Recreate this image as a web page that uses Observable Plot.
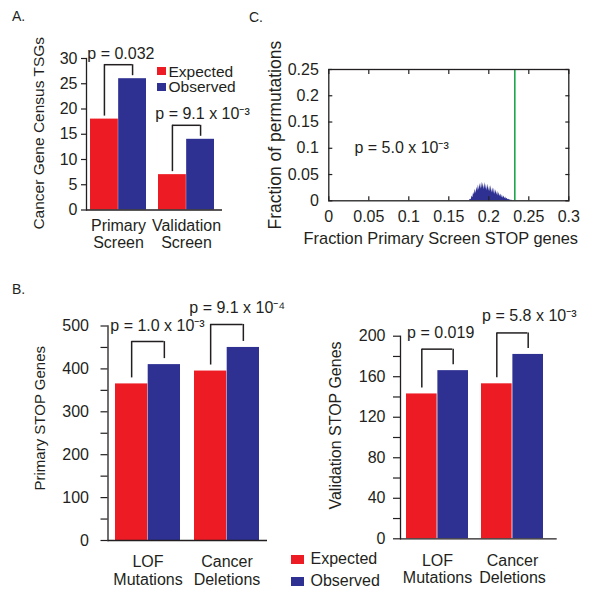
<!DOCTYPE html>
<html>
<head>
<meta charset="utf-8">
<script src="https://cdn.jsdelivr.net/npm/d3@7"></script>
<script src="https://cdn.jsdelivr.net/npm/@observablehq/plot@0.6"></script>
<style>
  body { margin: 0; background: #fff; }
  #fig { position: relative; width: 600px; height: 598px; font-family: "Liberation Sans", Arial, Helvetica, sans-serif; color: #231f20; overflow: hidden; }
  #fig > * { position: absolute; }
  .panel-label { font-size: 14px; line-height: 14px; }
  .leg, .leg * { font-family: "Liberation Sans", Arial, Helvetica, sans-serif !important; font-size: 16px !important; color: #231f20; overflow: visible !important; }
  #legA, #legA * { font-size: 15.5px !important; }
  .leg > div { margin: 0 !important; }
  #legA [class$="-swatch"] { line-height: 15.5px !important; height: 15.5px; padding-bottom: 0 !important; }
  #legA svg { margin-right: 2.5px !important; }
  #legB [class$="-swatch"] { line-height: 22px !important; height: 22px; padding-bottom: 0 !important; }
  #legB svg { margin-right: 7px !important; }
</style>
</head>
<body>
<div id="fig"></div>
<script>
// ---------- data ----------
const series = ["Expected", "Observed"];
const colors = ["#ed1c24", "#2e3192"];

// Panel A
const aGroups = ["Primary\nScreen", "Validation\nScreen"];
const aExpected = [18, 7];
const aObserved = [26, 14];
const aPvalues = ["p = 0.032", "p = 9.1 x 10⁻³"];
const aTicks = [0, 5, 10, 15, 20, 25, 30];

// Panel B
const bGroups = ["LOF\nMutations", "Cancer\nDeletions"];
const bPrimaryExpected = [365, 395];
const bPrimaryObserved = [410, 450];
const bPrimaryP = ["p = 1.0 x 10⁻³", "p = 9.1 x 10⁻⁴"];
const bPrimaryTicks = [0, 50, 100, 150, 200, 250, 300, 350, 400, 450, 500];
const bValidationExpected = [143, 153];
const bValidationObserved = [166, 182];
const bValidationP = ["p = 0.019", "p = 5.8 x 10⁻³"];
const bValidationTicks = [0, 20, 40, 60, 80, 100, 120, 140, 160, 180, 200];

// Panel C (permutation histogram)
const cBins = [0.176, 0.177, 0.178, 0.179, 0.180, 0.181, 0.182, 0.183, 0.184, 0.185,
  0.186, 0.187, 0.188, 0.189, 0.190, 0.191, 0.192, 0.193, 0.194, 0.195,
  0.196, 0.197, 0.198, 0.199, 0.200, 0.201, 0.202, 0.203, 0.204, 0.205,
  0.206, 0.207, 0.208, 0.209, 0.210, 0.211, 0.212, 0.213, 0.214, 0.215,
  0.216, 0.217, 0.218, 0.219, 0.220, 0.221, 0.222, 0.223, 0.224, 0.225,
  0.226, 0.227, 0.228, 0.229, 0.230];
const cFraction = [0.001, 0.003, 0.002, 0.009, 0.006, 0.016, 0.011, 0.022, 0.014, 0.026,
  0.018, 0.030, 0.020, 0.033, 0.022, 0.036, 0.024, 0.034, 0.021, 0.035,
  0.022, 0.031, 0.019, 0.032, 0.018, 0.028, 0.017, 0.029, 0.015, 0.025,
  0.014, 0.024, 0.012, 0.021, 0.011, 0.018, 0.009, 0.016, 0.008, 0.013,
  0.006, 0.011, 0.005, 0.009, 0.004, 0.007, 0.003, 0.005, 0.002, 0.003,
  0.001, 0.002, 0.0005, 0.001, 0];
const cObservedFraction = 0.2325;
const cP = "p = 5.0 x 10⁻³";
const cXTicks = [0, 0.05, 0.1, 0.15, 0.2, 0.25, 0.3];
const cYTicks = [0, 0.05, 0.1, 0.15, 0.2, 0.25];

// ---------- drawing ----------
const FONT = '"Liberation Sans", Arial, Helvetica, sans-serif';
const INK = "#231f20";
const GREEN = "#1ea64b";
const fig = document.getElementById("fig");

function place(el, left, top) {
  el.style.left = left + "px";
  el.style.top = top + "px";
  fig.appendChild(el);
  return el;
}

function groupedBars({groups, expected, observed, pvals, ticks, labelEvery, yMax, yLabel, L}) {
  const innerW = L.width - L.ml - L.mr;
  const innerH = L.height - L.mt - L.mb;
  const upp = yMax / innerH;
  const step = innerW / (groups.length - L.pi + 2 * L.po);
  const bw = step * (1 - L.pi);
  const rows = groups.map((g, i) => ({
    group: g, expected: expected[i], observed: observed[i], p: pvals[i],
    top: observed[i] + L.rise * upp,
    leftEnd: expected[i] + L.gap * upp,
    rightEnd: observed[i] + L.gap * upp
  }));
  return Plot.plot({
    width: L.width, height: L.height,
    marginTop: L.mt, marginRight: L.mr, marginBottom: L.mb, marginLeft: L.ml,
    style: {fontFamily: FONT, fontSize: L.fontSize + "px", color: INK, background: "none", overflow: "visible"},
    x: {domain: groups, paddingInner: L.pi, paddingOuter: L.po, align: L.align},
    y: {domain: [0, yMax]},
    marks: [
      Plot.barY(rows, {x: "group", y: "expected", fill: colors[0], insetRight: bw / 2}),
      Plot.barY(rows, {x: "group", y: "observed", fill: colors[1], insetLeft: bw / 2}),
      Plot.ruleY([0], {stroke: INK, strokeWidth: 1.3}),
      Plot.frame({anchor: "left", stroke: INK, strokeWidth: 1.3}),
      Plot.axisY({ticks, tickSize: L.tickSize, tickPadding: L.tickPadding, strokeWidth: 1.2,
        tickFormat: d => (d % labelEvery === 0 ? String(d) : ""), label: null}),
      Plot.axisX({tickSize: 0, tickPadding: L.xPad, lineHeight: L.lineHeight, label: null}),
      Plot.text([yLabel], {frameAnchor: "left", rotate: -90, textAnchor: "middle", lineAnchor: "middle",
        dx: L.titleDx, dy: L.titleDy, fontSize: L.titleSize}),
      Plot.ruleX(rows, {x: "group", y1: "leftEnd", y2: "top", dx: -bw / 4, stroke: INK, strokeWidth: 1.5}),
      Plot.ruleX(rows, {x: "group", y1: "rightEnd", y2: "top", dx: bw / 4, stroke: INK, strokeWidth: 1.5}),
      Plot.ruleY(rows, {x1: "group", x2: "group", y: "top", insetLeft: bw / 4, insetRight: bw / 4, stroke: INK, strokeWidth: 1.5}),
      Plot.text(rows, {x: "group", y: "top", text: "p", textAnchor: "start", lineAnchor: "bottom",
        dx: -bw / 2 + L.pDx, dy: -L.pDy, fontSize: L.fontSize})
    ]
  });
}

// Panel A
place(groupedBars({
  groups: aGroups, expected: aExpected, observed: aObserved, pvals: aPvalues,
  ticks: aTicks, labelEvery: 5, yMax: 30, yLabel: "Cancer Gene Census TSGs",
  L: {width: 240, height: 260, mt: 58, mr: 18, mb: 50.5, ml: 86, pi: 0.18, po: 0.08, align: 0.35,
      tickSize: 5, tickPadding: 4, fontSize: 16, xPad: 8.5, lineHeight: 1.06,
      titleDx: -47, titleDy: -1, titleSize: 15.5, rise: 14, gap: 3, pDx: -3, pDy: 6}
}), 0, 0);

// Panel B, primary
place(groupedBars({
  groups: bGroups, expected: bPrimaryExpected, observed: bPrimaryObserved, pvals: bPrimaryP,
  ticks: bPrimaryTicks, labelEvery: 100, yMax: 500, yLabel: "Primary STOP Genes",
  L: {width: 285, height: 300, mt: 35.5, mr: 18, mb: 50, ml: 107.5, pi: 0.18, po: 0.09, align: 0.5,
      tickSize: 7, tickPadding: 12, fontSize: 16, xPad: 13.5, lineHeight: 1.12,
      titleDx: -67.5, titleDy: -15, titleSize: 15, rise: 23, gap: 6, pDx: -5, pDy: 11}
}), 0, 290);

// Panel B, validation
place(groupedBars({
  groups: bGroups, expected: bValidationExpected, observed: bValidationObserved, pvals: bValidationP,
  ticks: bValidationTicks, labelEvery: 40, yMax: 200, yLabel: "Validation STOP Genes",
  L: {width: 290, height: 300, mt: 45.7, mr: 33.3, mb: 51.7, ml: 100, pi: 0.169, po: 0.122, align: 0.33,
      tickSize: 7, tickPadding: 8, fontSize: 16, xPad: 14, lineHeight: 1.12,
      titleDx: -65, titleDy: -12, titleSize: 16, rise: 21.5, gap: 6, pDx: 1, pDy: 11.5}
}), 300, 290);

// Panel C
const hist = cBins.map((x, i) => ({x, v: cFraction[i]}));
const noLabel = () => "";
place(Plot.plot({
  width: 350, height: 230, marginTop: 39, marginRight: 21.7, marginBottom: 59.7, marginLeft: 88.3,
  style: {fontFamily: FONT, fontSize: "16px", color: INK, background: "none", overflow: "visible"},
  x: {domain: [0, 0.3]},
  y: {domain: [0, 0.25]},
  marks: [
    Plot.areaY(hist, {x: "x", y: "v", fill: colors[1]}),
    Plot.ruleX([cObservedFraction], {stroke: GREEN, strokeWidth: 1.6}),
    Plot.frame({stroke: INK, strokeWidth: 1.3}),
    Plot.axisX({ticks: cXTicks, tickSize: -4, tickFormat: noLabel, label: null, strokeWidth: 1.2}),
    Plot.axisX({anchor: "top", ticks: cXTicks, tickSize: -4, tickFormat: noLabel, label: null, strokeWidth: 1.2}),
    Plot.axisY({ticks: cYTicks, tickSize: -4, tickFormat: noLabel, label: null, strokeWidth: 1.2}),
    Plot.axisY({anchor: "right", ticks: cYTicks, tickSize: -4, tickFormat: noLabel, label: null, strokeWidth: 1.2}),
    Plot.axisX({ticks: cXTicks, tickSize: 0, tickPadding: 10, tickFormat: d => String(d), label: null}),
    Plot.axisY({ticks: cYTicks, tickSize: 0, tickPadding: 10, tickFormat: d => String(d), label: null}),
    Plot.text(["Fraction Primary Screen STOP genes"], {frameAnchor: "bottom", textAnchor: "middle", dx: -8, dy: 43, lineAnchor: "bottom", fontSize: 16.4}),
    Plot.text(["Fraction of permutations"], {frameAnchor: "left", rotate: -90, textAnchor: "middle", lineAnchor: "middle", dx: -53, fontSize: 17.5}),
    Plot.text([{t: cP, x: 0.032, y: 0.091}], {x: "x", y: "y", text: "t", textAnchor: "start", lineAnchor: "bottom", fontSize: 16})
  ]
}), 240, 30);

// Legends
function legend(id, w, h) {
  const el = Plot.legend({color: {domain: series, range: colors}, legend: "swatches", columns: 1,
    swatchWidth: w, swatchHeight: h, className: "sw" + id});
  const wrap = document.createElement("div");
  wrap.id = id;
  wrap.className = "leg";
  wrap.appendChild(el);
  return wrap;
}
place(legend("legA", 9, 8), 157, 63.5);
place(legend("legB", 13, 9), 290.5, 548);

// Panel letters
[["A.", 12, 9], ["B.", 12, 282], ["C.", 249, 9.5]].forEach(([t, x, y]) => {
  const d = document.createElement("div");
  d.className = "panel-label";
  d.textContent = t;
  place(d, x, y);
});
</script>
</body>
</html>
